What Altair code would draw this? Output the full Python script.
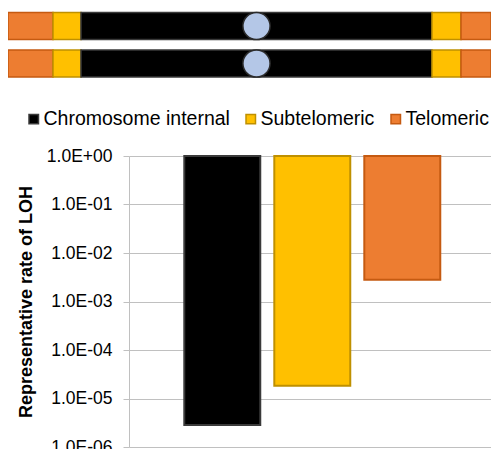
import altair as alt
import pandas as pd

# ---- data ----
categories = ["Chromosome internal", "Subtelomeric", "Telomeric"]
rates = [2.85e-6, 1.84e-5, 2.8e-3]
fill_colors = ["#000000", "#FFC000", "#ED7D31"]
stroke_colors = ["#3A3A3A", "#BF9000", "#C55A11"]

tick_values = [1e-6, 1e-5, 1e-4, 1e-3, 1e-2, 1e-1, 1.0]

# chromosome diagram (visible part, arbitrary length units)
chromosomes = ["A", "B"]
seg_type = ["Telomeric", "Subtelomeric", "Chromosome internal", "Subtelomeric", "Telomeric"]
seg_start = [0, 45, 73, 424, 453]
seg_end = [45, 73, 424, 453, 483]
centromere_pos = 248.5

FONT = "Liberation Sans"
PLOT_W = 362
PLOT_H = 291

bars_df = pd.DataFrame({"type": categories, "rate": rates})

seg_rows = []
for c in chromosomes:
    for t, s, e in zip(seg_type, seg_start, seg_end):
        seg_rows.append({"chrom": c, "type": t, "start": s, "end": e})
seg_df = pd.DataFrame(seg_rows)
cen_df = pd.DataFrame({"chrom": chromosomes, "pos": [centromere_pos] * len(chromosomes)})

fill_scale = alt.Scale(domain=categories, range=fill_colors)
stroke_scale = alt.Scale(domain=categories, range=stroke_colors)

legend = alt.Legend(
    orient="none", legendX=-105, legendY=-47, direction="horizontal", columns=3,
    title=None, symbolType="square", symbolSize=90, symbolStrokeWidth=1.5,
    labelFont=FONT, labelFontSize=19.5, labelColor="#000000", labelLimit=400,
    labelOffset=0, columnPadding=11,
)

bars = alt.Chart(bars_df).mark_bar(strokeWidth=2).encode(
    x=alt.X("type:N", sort=categories, axis=None,
            scale=alt.Scale(paddingInner=0.156, paddingOuter=0.589, align=0.5215)),
    y=alt.Y("rate:Q",
            scale=alt.Scale(type="log", domain=[1e-6, 1], nice=False),
            axis=alt.Axis(
                values=tick_values,
                labelExpr="'1.0E' + (datum.value >= 1 ? '+0' : '-0') + abs(round(log(datum.value)/LN10))",
                title="Representative rate of LOH",
                titleFont=FONT, titleFontSize=18, titleFontWeight="bold", titleColor="#000000",
                titlePadding=11,
                labelFont=FONT, labelFontSize=17.5, labelColor="#000000", labelPadding=11,
                tickSize=6, tickColor="#C0C0C0", domainColor="#C0C0C0",
                gridColor="#C0C0C0", grid=True,
            )),
    y2=alt.datum(1),
    fill=alt.Fill("type:N", scale=fill_scale, legend=legend),
    stroke=alt.Stroke("type:N", scale=stroke_scale, legend=legend),
)

diag_x = alt.Scale(domain=[0, 483], range=[-121, PLOT_W])
diag_y = alt.Scale(domain=chromosomes, range=[-143.5, -79], paddingInner=0.28, paddingOuter=0)

rects = alt.Chart(seg_df).mark_rect(strokeWidth=1.5).encode(
    x=alt.X("start:Q", scale=diag_x, axis=None),
    x2="end:Q",
    y=alt.Y("chrom:N", scale=diag_y, axis=None),
    fill=alt.Fill("type:N", scale=fill_scale, legend=legend),
    stroke=alt.Stroke("type:N", scale=stroke_scale, legend=legend),
)

cents = alt.Chart(cen_df).mark_point(
    shape="circle", filled=True, fill="#B4C7E7", stroke="#2B2B2B",
    strokeWidth=1.5, size=740, opacity=1,
).encode(
    x=alt.X("pos:Q", scale=diag_x, axis=None),
    y=alt.Y("chrom:N", scale=diag_y, axis=None),
)

diagram = alt.layer(rects, cents)

chart = alt.layer(bars, diagram).resolve_scale(
    x="independent", y="independent"
).properties(
    width=PLOT_W, height=PLOT_H,
    autosize=alt.AutoSizeParams(type="none"),
    padding={"left": 121, "top": 148, "right": 0, "bottom": 2},
).configure_view(strokeWidth=0)

chart.save("out.html", embed_options={"renderer": "svg", "actions": False})
